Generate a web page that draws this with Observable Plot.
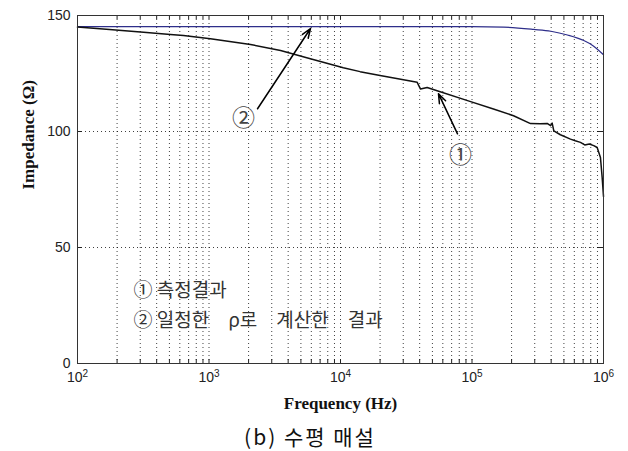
<!DOCTYPE html>
<html>
<head>
<meta charset="utf-8">
<script src="https://cdn.jsdelivr.net/npm/d3@7"></script>
<script src="https://cdn.jsdelivr.net/npm/@observablehq/plot@0.6"></script>
<style>
  body { margin: 0; background: #fff; }
  #cap { width: 620px; font-family: "Noto Sans CJK KR", "Noto Sans", sans-serif; font-size: 21px; letter-spacing: 2px; line-height: 29px; text-align: center; color: #111; }
</style>
</head>
<body>
<div id="chart"></div>
<div id="cap">(b) 수평 매설</div>
<script>
// ---- data ----
const measuredFreq = [100,175,318,509,640,1025,2070,3500,5900,10500,14100,20000,38300,40600,45600,54300,92500,145600,207000,278600,331000,373000,395700,407000,419000,470000,561000,610000,668000,720000,780000,843000,895000,948000,977000,1000000];
const measuredZ    = [145.0,144.0,142.8,141.8,141.4,140.0,137.5,134.9,131.4,127.5,125.8,124.1,121.2,118.3,119.0,117.6,113.3,109.7,106.8,103.4,103.3,103.5,102.5,103.6,100.3,98.6,96.7,96.0,95.3,94.2,94.6,93.9,93.1,88.8,80.1,72.0];
const calcFreq = [100,10000,100000,174000,295000,398000,532000,708000,832000,1000000];
const calcZ    = [145.2,145.2,145.2,145.0,144.0,143.2,141.6,139.2,137.0,133.1];
const xTicks = [1e2,1e3,1e4,1e5,1e6];
const yTicks = [0,50,100,150];
const decades = [1e2,1e3,1e4,1e5];
const multipliers = [1,2,3,4,5,6,7,8,9];
const legendLines = ["① 측정결과", "② 일정한\u2003ρ로\u2003계산한\u2003결과"];
const annoLabels = [{f: 81800, z: 89.5, t: "①"}, {f: 1828, z: 105.5, t: "②"}];
const arrows = [
  {f1: 77600, z1: 99.0, f2: 55600, z2: 116.3},
  {f1: 2339, z1: 109.8, f2: 5915, z2: 144.4}
];
const xLabel = "Frequency (Hz)";
const yLabel = "Impedance (Ω)";

const measured = measuredFreq.map((f,i) => ({f, z: measuredZ[i]}));
const calc = calcFreq.map((f,i) => ({f, z: calcZ[i]}));
const gridF = decades.flatMap(d => multipliers.map(m => d*m)).filter(v => v > 100);
const fmt = d => "10^" + Math.round(Math.log10(d));

const W = 628, H = 422, mt = 15, mb = 59, ml = 77, mr = 25;
const fh = H - mt - mb, fw = W - ml - mr;
const serif = "'Liberation Serif', 'DejaVu Serif', serif";
const cjk = "'Noto Sans CJK KR', sans-serif";

const chart = Plot.plot({
  width: W, height: H,
  marginTop: mt, marginBottom: mb, marginLeft: ml, marginRight: mr,
  style: {fontFamily: "'Liberation Sans', Arial, sans-serif", fontSize: "14px", background: "#fff", color: "#222"},
  x: {type: "log", domain: [1e2, 1e6]},
  y: {domain: [0, 150]},
  marks: [
    Plot.ruleX(gridF, {stroke: "#000", strokeOpacity: 0.75, strokeDasharray: "1,3"}),
    Plot.ruleY([50, 100], {stroke: "#000", strokeOpacity: 0.75, strokeDasharray: "1,3"}),
    Plot.tickX(gridF, {stroke: "#222", insetTop: fh - 4}),
    Plot.tickX(gridF, {stroke: "#222", insetBottom: fh - 4}),
    Plot.tickY(yTicks, {stroke: "#222", insetRight: fw - 5}),
    Plot.tickY(yTicks, {stroke: "#222", insetLeft: fw - 5}),
    Plot.axisX({ticks: xTicks, tickFormat: fmt, tickSize: 0, tickPadding: 9, fontSize: 14, label: null}),
    Plot.axisY({ticks: yTicks, tickSize: 0, tickPadding: 7, fontSize: 14, label: null}),
    Plot.line(calc, {x: "f", y: "z", stroke: "#2e2e8a", strokeWidth: 1.2, curve: "monotone-x"}),
    Plot.line(measured, {x: "f", y: "z", stroke: "#111", strokeWidth: 1.5}),
    Plot.arrow(arrows, {x1: "f1", y1: "z1", x2: "f2", y2: "z2", stroke: "#000", strokeWidth: 1.5, headLength: 10, headAngle: 40}),
    Plot.text(annoLabels, {x: "f", y: "z", text: "t", fontSize: 23, fill: "#444", fontFamily: cjk}),
    Plot.text([legendLines[0]], {ariaLabel: "legend", frameAnchor: "top-left", dx: 56, dy: 275, textAnchor: "start", lineAnchor: "middle", fontSize: 19, fill: "#333", fontFamily: cjk}),
    Plot.text([legendLines[1]], {ariaLabel: "legend", frameAnchor: "top-left", dx: 56, dy: 305, textAnchor: "start", lineAnchor: "middle", fontSize: 19, fill: "#333", fontFamily: cjk}),
    Plot.text([xLabel], {frameAnchor: "bottom", dy: 40, fontSize: 17, fontWeight: "bold", fill: "#111", fontFamily: serif, lineAnchor: "middle"}),
    Plot.text([yLabel], {frameAnchor: "left", dx: -49, rotate: -90, fontSize: 17, fontWeight: "bold", fill: "#111", fontFamily: serif, lineAnchor: "middle"}),
    Plot.frame({stroke: "#333", strokeWidth: 1})
  ]
});
// superscript exponents on the x tick labels
d3.select(chart).selectAll("text").each(function() {
  const t = this.textContent;
  if (/^10\^\d$/.test(t)) {
    const [b, e] = t.split("^");
    const s = d3.select(this);
    s.text(b);
    s.append("tspan").attr("dy", "-0.55em").attr("font-size", "10px").text(e);
  }
});
d3.select(chart).selectAll('g[aria-label="legend"] text').attr("letter-spacing", "1px");
document.getElementById("chart").appendChild(chart);
</script>
</body>
</html>
